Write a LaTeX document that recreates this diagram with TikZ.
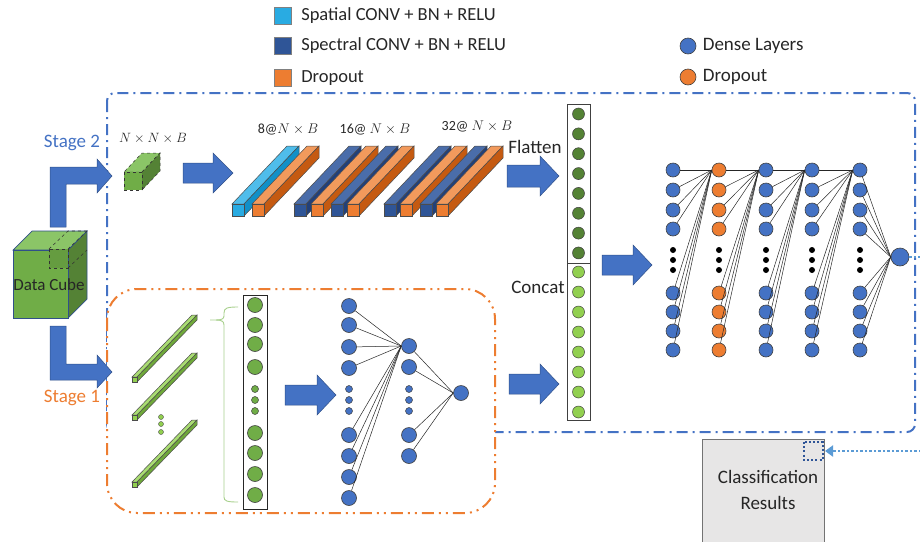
\RequirePackage{fix-cm}
\documentclass[tikz,border=0pt]{standalone}
\usepackage{amsmath}
\usepackage{fontspec}
\setmainfont{Carlito}
\usepackage{xcolor}
\usetikzlibrary{arrows.meta}
\usetikzlibrary{positioning}
\usetikzlibrary{calc}

% layer colours: F front, T top, S side
\definecolor{spaF}{HTML}{29ABE2}
\definecolor{spaT}{HTML}{4FBDEB}
\definecolor{spaS}{HTML}{1190C8}
\definecolor{speF}{HTML}{2F5597}
\definecolor{speT}{HTML}{4A6DAA}
\definecolor{speS}{HTML}{22407A}
\definecolor{droF}{HTML}{ED7D31}
\definecolor{droT}{HTML}{F29A5C}
\definecolor{droS}{HTML}{C55A11}
\definecolor{patF}{HTML}{70AD47}
\definecolor{patT}{HTML}{8BC567}
\definecolor{patS}{HTML}{548235}
\definecolor{rodF}{HTML}{92D050}
\definecolor{rodT}{HTML}{A9DC72}
\definecolor{rodS}{HTML}{6FA83A}
\definecolor{denseblue}{HTML}{4472C4}
\definecolor{droporange}{HTML}{ED7D31}
\definecolor{darkgreen}{HTML}{548235}
\definecolor{midgreen}{HTML}{70AD47}
\definecolor{lightgreen}{HTML}{92D050}
\definecolor{bracegreen}{HTML}{A9D18E}
\definecolor{resblue}{HTML}{5B9BD5}
\definecolor{boxgray}{HTML}{E7E6E6}

\begin{document}
\begin{tikzpicture}[x=1pt, y=-1pt,
	font=\fontsize{19}{22}\selectfont, text=black!85,
	dense/.style={circle, draw=black!75, fill=denseblue, minimum size=14pt, inner sep=0pt, line width=0.6pt},
	drop/.style={dense, fill=droporange},
	flat/.style={circle, draw=black!75, fill=darkgreen, minimum size=12pt, inner sep=0pt, line width=0.5pt},
	cat/.style={flat, fill=lightgreen},
	vec/.style={circle, draw=black!75, fill=midgreen, minimum size=15pt, inner sep=0pt, line width=0.6pt},
	link/.style={black!85, line width=0.5pt},
	slabline/.style={draw=black!70, line width=0.5pt},
	barrow/.style={fill=denseblue, draw=denseblue!70!black, line width=0.5pt},
	legsq/.style={draw=black!50, line width=0.5pt, minimum size=17pt, inner sep=0pt},
	legtext/.style={font=\fontsize{18.5}{22}\selectfont},
	legdot/.style={dense, minimum size=16pt},
	mathlab/.style={font=\fontsize{14}{16}\selectfont},
	stagetwo/.style={denseblue, line width=2pt, dash pattern=on 11pt off 5pt on 2pt off 5pt},
	stageone/.style={droporange, line width=2pt, dash pattern=on 12pt off 5pt on 2pt off 5pt on 2pt off 5pt},
	resline/.style={resblue, line width=2.5pt, dash pattern=on 2.5pt off 2pt, -{Triangle[length=8pt, width=11pt]}},
	clsbox/.style={draw=black!55, fill=boxgray, line width=1pt}]
	\newcommand\slab[6]{%
		\filldraw[slabline, fill=#6T] (#1,#2) -- ++(#3,0) -- ++(#4,#5) -- ++(-#3,0) -- cycle;
		\filldraw[slabline, fill=#6S] (#1+#3,#2+#3) -- ++(0,-#3) -- ++(#4,#5) -- ++(0,#3) -- cycle;
		\filldraw[slabline, fill=#6F] (#1,#2) rectangle ++(#3,#3);}
	\newcommand\barr[6]{%
		\filldraw[barrow] (#1,#3-#4) -- (#2-#6,#3-#4) -- (#2-#6,#3-#5) -- (#2,#3) -- (#2-#6,#3+#5) -- (#2-#6,#3+#4) -- (#1,#3+#4) -- cycle;}
	\useasboundingbox (0,0) rectangle (920,541);

	% legend
	\node[legsq, fill=spaF] (lsq1) at (283,16) {};
	\node[legsq, fill=speF] (lsq2) at (283,46) {};
	\node[legsq, fill=droF] (lsq3) at (283,78) {};
	\node[legtext, right=6pt of lsq1] (ltx1) {Spatial CONV + BN + RELU};
	\node[legtext, right=6pt of lsq2] (ltx2) {Spectral CONV + BN + RELU};
	\node[legtext, right=6pt of lsq3] (ltx3) {Dropout};
	\node[legdot] (ldot1) at (688,46) {};
	\node[legdot, fill=droporange] (ldot2) at (688,77) {};
	\node[right=3pt of ldot1] (ltx4) {Dense Layers};
	\node[right=3pt of ldot2] (ltx5) {Dropout};

	% stage frames
	\draw[stagetwo, rounded corners=8pt] (107,93) rectangle (915,432);
	\draw[stageone, fill=white, rounded corners=30pt] (107,289) rectangle (495,513);
	\node[text=denseblue] (stg2) at (72,143) {Stage 2};
	\node[text=droporange] (stg1) at (72,398) {Stage 1};

	% data cube
	\begin{scope}[draw=denseblue!70!black, line width=0.7pt]
		\filldraw[fill=patT] (13,250) -- (32,231) -- (87,231) -- (68,250) -- cycle;
		\filldraw[fill=patS] (68,250) -- (87,231) -- (87,299) -- (68,318) -- cycle;
		\filldraw[fill=patF] (13,250) rectangle (68,318);
	\end{scope}
	\begin{scope}[draw=black!80, line width=0.6pt, dashed]
		\filldraw[fill=patF!90!black] (49,249) rectangle (68,268);
		\draw (49,249) -- (68,231) -- (87,231);
		\draw (68,249) -- (87,231);
		\draw (68,268) -- (87,250);
	\end{scope}
	\node[font=\fontsize{17}{20}\selectfont] (cube) at (49,285) {Data Cube};
	\filldraw[barrow] (50,227) -- (50,167) -- (97,167) -- (97,159) -- (112,176) -- (97,193) -- (97,184) -- (66,184) -- (66,227) -- cycle;
	\filldraw[barrow] (50,326) -- (66,326) -- (66,364) -- (97,364) -- (97,355) -- (112,372) -- (97,388) -- (97,380) -- (50,380) -- cycle;

	% stage 2: patch and conv layers
	\begin{scope}[slabline/.append style={dashed, draw=black!80}]
		\slab{124}{172}{18}{18}{-19}{pat}
	\end{scope}
	\node[mathlab, font=\fontsize{13.5}{16}\selectfont] (patch) at (153,138) {$N\times N\times B$};
	\barr{183}{233}{173}{10}{20}{20}
	\foreach \x/\t in {232/spa, 252/dro, 294/spe, 311/dro, 331/spe, 347/dro, 384/spe, 400/dro, 420/spe, 436/dro}{
		\slab{\x}{204}{12}{55}{-58}{\t}
	}
	\node[mathlab] (lab8) at (288,130) {8@$N\times B$};
	\node[mathlab] (lab16) at (375,130) {16@ $N\times B$};
	\node[mathlab] (lab32) at (477,127) {32@ $N\times B$};

	% flatten and concat column
	\node (flatten) at (535,147) {Flatten};
	\barr{507}{559}{176}{11}{20}{19}
	\draw[black!75, line width=0.8pt] (567,104) rectangle (590,420);
	\draw[black!75, line width=0.8pt] (567,263) -- (590,263);
	\foreach \i in {1,...,8}{
		\node[flat] (f\i) at (578.5,{114+(\i-1)*19.85}) {};
		\node[cat] (c\i) at (578.5,{272+(\i-1)*20}) {};
	}
	\node (concat) at (538,287) {Concat};
	\barr{509}{559}{384}{10}{20}{19}
	\barr{602}{652}{265}{10}{20}{19}

	% dense layers
	\foreach \c/\x/\s in {1/673/dense, 2/719/drop, 3/766/dense, 4/812/dense, 5/860/dense}{
		\foreach \r/\y in {1/170, 2/190, 3/210, 4/229, 5/293, 6/312, 7/331, 8/350}
			\node[\s] (d\c-\r) at (\x,\y) {};
		\foreach \y in {250,260,270}
			\fill (\x,\y) circle (3pt);
	}
	\node[dense, minimum size=18pt] (out) at (900,257) {};
	\foreach \c [evaluate=\c as \n using int(\c+1)] in {1,...,4}
		\foreach \r in {1,...,8}
			\draw[link] (d\c-\r) -- (d\n-1.west);
	\foreach \r in {1,...,8}
		\draw[link] (d5-\r) -- (out.west);

	% classification results
	\node[clsbox, anchor=north west, minimum width=122pt, minimum height=104pt] (cls) at (702,439) {};
	\node[align=center, font=\fontsize{19}{26}\selectfont] (clstext) at (768,490) {Classification\\Results};
	\draw[speF, line width=1.8pt, dash pattern=on 2pt off 2.2pt] (804,442) rectangle (823,460);
	\draw[resline] (out.east) -- (924,257) |- ([yshift=-12pt]cls.north east);

	% stage 1: spectral rods and vector
	\slab{132}{377}{5}{60}{-62}{rod}
	\slab{132}{415}{5}{60}{-62}{rod}
	\slab{132}{482}{5}{60}{-62}{rod}
	\foreach \y in {417,424,432}
		\filldraw[fill=lightgreen, draw=black!70, line width=0.4pt] (161,\y) circle (2.5pt);
	\draw[bracegreen, line width=0.9pt] (238,307) .. controls (227,307) and (224,308) .. (224,313) -- (224,316) .. controls (224,319) and (221,320) .. (216,320) -- (210,320);
	\draw[bracegreen, line width=0.9pt] (216,320) .. controls (221,320) and (224,321) .. (224,325) -- (224,497) .. controls (224,501) and (227,502) .. (238,502);
	\draw[black!85, line width=0.9pt] (243,295) rectangle (267,509);
	\foreach \r/\y in {1/305, 2/325, 3/344, 4/367, 5/433, 6/453, 7/474, 8/495}
		\node[vec] (v\r) at (255,\y) {};
	\foreach \y in {389,400,411}
		\filldraw[fill=midgreen, draw=black!75, line width=0.5pt] (255,\y) circle (3.5pt);
	\barr{285}{336}{395}{10}{20}{19}

	% stage 1: dense net
	\foreach \r/\y in {1/306, 2/325, 3/347, 4/368, 5/435, 6/456, 7/477, 8/498}
		\node[dense, minimum size=15pt] (s1-\r) at (349,\y) {};
	\foreach \r/\y in {1/346, 2/367, 3/435, 4/456}
		\node[dense, minimum size=15pt] (s2-\r) at (409,\y) {};
	\foreach \x in {349,409}
		\foreach \y in {389,400,411}
			\filldraw[fill=denseblue, draw=black!75, line width=0.5pt] (\x,\y) circle (3.5pt);
	\node[dense, minimum size=15pt] (so) at (461,393) {};
	\foreach \r in {1,...,8}
		\draw[link] (s1-\r) -- (s2-1.west);
	\foreach \r in {1,...,4}
		\draw[link] (s2-\r) -- (so.west);
\end{tikzpicture}
\end{document}
